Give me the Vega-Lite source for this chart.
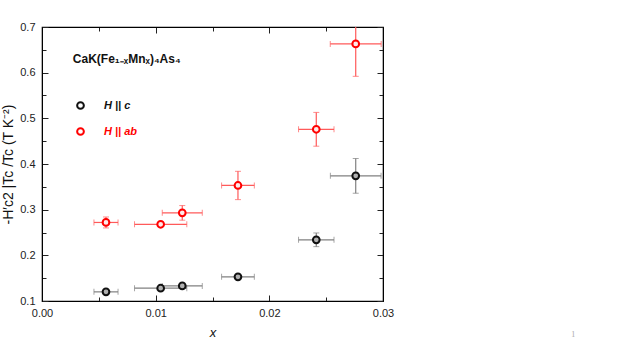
{
  "$schema": "https://vega.github.io/schema/vega-lite/v6.json",
  "width": 341,
  "height": 274,
  "autosize": {"type": "none"},
  "padding": {"left": 42, "top": 27, "right": 240, "bottom": 49},
  "background": "white",
  "config": {
    "font": "Liberation Sans",
    "view": {"stroke": "black", "strokeWidth": 1.2},
    "axis": {
      "grid": false,
      "domainColor": "black",
      "tickColor": "#222",
      "tickWidth": 1,
      "labelFont": "Liberation Sans",
      "labelFontSize": 11,
      "labelColor": "#222",
      "titleFont": "Liberation Sans",
      "titleFontWeight": "normal",
      "titleColor": "#111",
      "labelFlush": false,
      "labelOverlap": false
    }
  },
  "datasets": {
    "pts": [
      {"s": "H || c", "x": 0.00563, "y": 0.120, "xlo": 0.00457, "xhi": 0.00669, "ylo": 0.117, "yhi": 0.123},
      {"s": "H || c", "x": 0.01044, "y": 0.128, "xlo": 0.00814, "xhi": 0.01274, "ylo": 0.125, "yhi": 0.131},
      {"s": "H || c", "x": 0.01234, "y": 0.133, "xlo": 0.01058, "xhi": 0.01410, "ylo": 0.130, "yhi": 0.136},
      {"s": "H || c", "x": 0.01724, "y": 0.153, "xlo": 0.01580, "xhi": 0.01868, "ylo": 0.149, "yhi": 0.157},
      {"s": "H || c", "x": 0.02413, "y": 0.234, "xlo": 0.02257, "xhi": 0.02569, "ylo": 0.219, "yhi": 0.249},
      {"s": "H || c", "x": 0.02760, "y": 0.374, "xlo": 0.02537, "xhi": 0.02983, "ylo": 0.336, "yhi": 0.412},
      {"s": "H || ab", "x": 0.00563, "y": 0.272, "xlo": 0.00457, "xhi": 0.00669, "ylo": 0.260, "yhi": 0.284},
      {"s": "H || ab", "x": 0.01044, "y": 0.268, "xlo": 0.00814, "xhi": 0.01274, "ylo": 0.265, "yhi": 0.271},
      {"s": "H || ab", "x": 0.01234, "y": 0.293, "xlo": 0.01058, "xhi": 0.01410, "ylo": 0.277, "yhi": 0.309},
      {"s": "H || ab", "x": 0.01724, "y": 0.353, "xlo": 0.01580, "xhi": 0.01868, "ylo": 0.322, "yhi": 0.384},
      {"s": "H || ab", "x": 0.02413, "y": 0.476, "xlo": 0.02257, "xhi": 0.02569, "ylo": 0.439, "yhi": 0.513},
      {"s": "H || ab", "x": 0.02760, "y": 0.663, "xlo": 0.02536, "xhi": 0.02984, "ylo": 0.592, "yhi": 0.734}
    ],
    "labels": [
      {"t": "CaK(Fe₁₋ₓMnₓ)₄As₄", "x": 0.00271, "y": 0.630}
    ],
    "page": [
      {"t": "1", "x": 0.04673, "y": 0.0258}
    ]
  },
  "layer": [
    {
      "data": {"name": "pts"},
      "transform": [{"calculate": "datum.s", "as": "grp"}],
      "mark": {"type": "errorbar", "ticks": {"size": 6, "thickness": 1}, "thickness": 1.2, "clip": true},
      "encoding": {
        "x": {
          "field": "xlo", "type": "quantitative",
          "scale": {"domain": [0, 0.03], "nice": false, "zero": false},
          "axis": {
            "orient": "bottom",
            "values": [0, 0.005, 0.01, 0.015, 0.02, 0.025, 0.03],
            "labelExpr": "round(datum.value*200) % 2 == 0 ? format(datum.value, '.2f') : ''",
            "tickSize": {"condition": {"test": "round(datum.value*200) % 2 == 0", "value": -6}, "value": -4},
            "labelPadding": 12,
            "title": "x",
            "titleFontStyle": "italic",
            "titleFontSize": 13,
            "titlePadding": 6
          }
        },
        "x2": {"field": "xhi"},
        "y": {
          "field": "y", "type": "quantitative",
          "scale": {"domain": [0.1, 0.7], "nice": false, "zero": false},
          "axis": {
            "orient": "left",
            "values": [0.1, 0.15, 0.2, 0.25, 0.3, 0.35, 0.4, 0.45, 0.5, 0.55, 0.6, 0.65, 0.7],
            "labelExpr": "round(datum.value*20) % 2 == 0 ? format(datum.value, '.1f') : ''",
            "tickSize": {"condition": {"test": "round(datum.value*20) % 2 == 0", "value": -6}, "value": -4},
            "labelPadding": 13,
            "title": "-H′c2 |Tc /Tc (T K⁻²)",
            "titleFontSize": 14,
            "titlePadding": 4
          }
        },
        "color": {
          "field": "grp", "type": "nominal",
          "scale": {"domain": ["H || c", "H || ab"], "range": ["#808080", "#ff5a5a"]},
          "legend": null
        }
      }
    },
    {
      "data": {"name": "pts"},
      "transform": [{"calculate": "datum.s", "as": "grp"}],
      "mark": {"type": "errorbar", "ticks": {"size": 6, "thickness": 1}, "thickness": 1.2, "clip": true},
      "encoding": {
        "x": {
          "field": "x", "type": "quantitative",
          "scale": {"domain": [0, 0.03], "nice": false, "zero": false},
          "axis": {
            "orient": "top",
            "values": [0, 0.005, 0.01, 0.015, 0.02, 0.025, 0.03],
            "labels": false,
            "tickSize": {"condition": {"test": "round(datum.value*200) % 2 == 0", "value": -6}, "value": -4},
            "title": null
          }
        },
        "y": {
          "field": "ylo", "type": "quantitative",
          "scale": {"domain": [0.1, 0.7], "nice": false, "zero": false},
          "axis": {
            "orient": "right",
            "values": [0.1, 0.15, 0.2, 0.25, 0.3, 0.35, 0.4, 0.45, 0.5, 0.55, 0.6, 0.65, 0.7],
            "labels": false,
            "tickSize": {"condition": {"test": "round(datum.value*20) % 2 == 0", "value": -6}, "value": -4},
            "title": null
          }
        },
        "y2": {"field": "yhi"},
        "color": {
          "field": "grp", "type": "nominal",
          "scale": {"domain": ["H || c", "H || ab"], "range": ["#808080", "#ff5a5a"]},
          "legend": null
        }
      }
    },
    {
      "data": {"name": "pts"},
      "transform": [{"calculate": "datum.s", "as": "grp"}],
      "mark": {"type": "point", "shape": "circle", "size": 30, "filled": true, "opacity": 1},
      "encoding": {
        "x": {"field": "x", "type": "quantitative", "scale": {"domain": [0, 0.03], "nice": false, "zero": false}, "axis": null},
        "y": {"field": "y", "type": "quantitative", "scale": {"domain": [0.1, 0.7], "nice": false, "zero": false}, "axis": null},
        "fill": {
          "field": "grp", "type": "nominal",
          "scale": {"domain": ["H || c", "H || ab"], "range": ["#b0b0b0", "#ffe8e8"]},
          "legend": null
        }
      }
    },
    {
      "data": {"name": "pts"},
      "mark": {"type": "point", "shape": "circle", "size": 45, "strokeWidth": 2, "filled": false, "opacity": 1},
      "encoding": {
        "x": {"field": "x", "type": "quantitative", "scale": {"domain": [0, 0.03], "nice": false, "zero": false}, "axis": null},
        "y": {"field": "y", "type": "quantitative", "scale": {"domain": [0.1, 0.7], "nice": false, "zero": false}, "axis": null},
        "color": {
          "field": "s", "type": "nominal",
          "scale": {"domain": ["H || c", "H || ab"], "range": ["#111111", "#ff0000"]},
          "legend": {
            "orient": "none", "legendX": 33, "legendY": 73,
            "title": null, "padding": 0,
            "symbolType": "circle", "symbolSize": 45, "symbolStrokeWidth": 2,
            "symbolFillColor": {"expr": "datum.value === 'H || ab' ? '#ffe8e8' : '#b0b0b0'"},
            "labelColor": {"expr": "datum.value === 'H || ab' ? '#ff0000' : '#111111'"},
            "labelFont": "Liberation Sans", "labelFontSize": 11, "labelFontWeight": "bold", "labelFontStyle": "italic",
            "labelOffset": 18, "rowPadding": 11
          }
        }
      }
    },
    {
      "data": {"name": "labels"},
      "mark": {"type": "text", "align": "left", "baseline": "middle", "fontSize": 12, "fontWeight": "bold", "font": "Liberation Sans", "color": "#111"},
      "encoding": {
        "x": {"field": "x", "type": "quantitative", "scale": {"domain": [0, 0.03], "nice": false, "zero": false}, "axis": null},
        "y": {"field": "y", "type": "quantitative", "scale": {"domain": [0.1, 0.7], "nice": false, "zero": false}, "axis": null},
        "text": {"field": "t"}
      }
    },
    {
      "data": {"name": "page"},
      "mark": {"type": "text", "align": "center", "baseline": "middle", "fontSize": 8, "font": "Liberation Serif", "color": "#aaa"},
      "encoding": {
        "x": {"field": "x", "type": "quantitative", "scale": {"domain": [0, 0.03], "nice": false, "zero": false}, "axis": null},
        "y": {"field": "y", "type": "quantitative", "scale": {"domain": [0.1, 0.7], "nice": false, "zero": false}, "axis": null},
        "text": {"field": "t"}
      }
    }
  ],
  "resolve": {"axis": {"x": "independent", "y": "independent"}, "legend": {"color": "independent"}, "scale": {"color": "independent"}}
}
